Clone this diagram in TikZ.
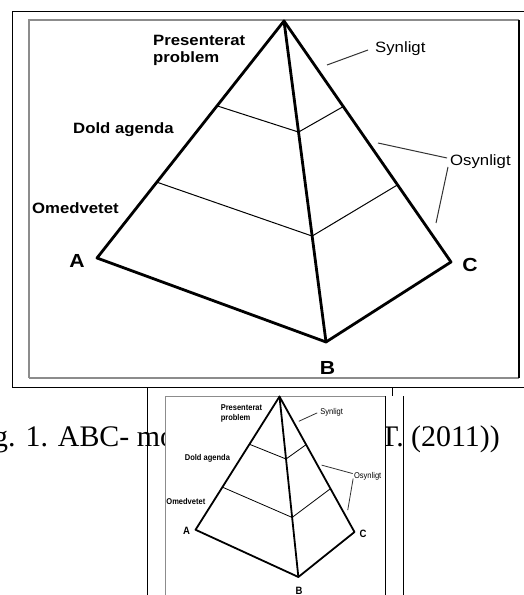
\documentclass[tikz,border=0pt]{standalone}
\usepackage{fontspec}
\setmainfont{Liberation Serif}
\newfontfamily\lblfont[FakeStretch=1.12]{Liberation Sans}
\usetikzlibrary{calc}
\newcommand{\pyrdraw}[2]{%
  \begin{scope}[#2]
    \fill[white] (0,0) rectangle (490,358);
    \draw[framegray] (0,358) -- (0,0) -- (490,0);
    \draw[framegray] (0,358) -- (490,358);
    \draw[framedark] (490,0) -- (490,358);
    \coordinate (#1apex) at (255,1);
    \coordinate (#1A) at (68,238);
    \coordinate (#1B) at (297,322);
    \coordinate (#1C) at (422,242);
    \coordinate (#1L1) at ($(#1apex)!0.358!(#1A)$);
    \coordinate (#1M1) at ($(#1apex)!0.346!(#1B)$);
    \coordinate (#1R1) at ($(#1apex)!0.355!(#1C)$);
    \coordinate (#1L2) at ($(#1apex)!0.68!(#1A)$);
    \coordinate (#1M2) at ($(#1apex)!0.67!(#1B)$);
    \coordinate (#1R2) at ($(#1apex)!0.68!(#1C)$);
    \draw[pyrlevel] (#1L1) -- (#1M1) -- (#1R1);
    \draw[pyrlevel] (#1L2) -- (#1M2) -- (#1R2);
    \draw[pyredge] (#1apex) -- (#1A) -- (#1B) -- (#1C) -- cycle;
    \draw[pyredge] (#1apex) -- (#1B);
    \node[lbl] (#1pres) at (124,26) {Presenterat};
    \node[lbl] (#1prob) at (124,43) {problem};
    \node[lbl] (#1dold) at (44,114) {Dold agenda};
    \node[lbl] (#1omed) at (3,193) {Omedvetet};
    \node[vislbl] (#1syn) at (346,33) {Synligt};
    \node[vislbl] (#1osyn) at (421,146) {Osynligt};
    \node[corner] (#1labA) at (48,240.5) {A};
    \node[corner] (#1labB) at (298.5,347.5) {B};
    \node[corner] (#1labC) at (441,245) {C};
    \coordinate (#1s1) at (298,45);
    \coordinate (#1s2) at (339,30);
    \coordinate (#1o1) at (349,123);
    \coordinate (#1o2) at (418,138);
    \coordinate (#1o3) at (419,147);
    \coordinate (#1o4) at (407,203);
    \draw[leader] (#1s1) -- (#1s2);
    \draw[leader] (#1o1) -- (#1o2);
    \draw[leader] (#1o3) -- (#1o4);
  \end{scope}}
\begin{document}
\begin{tikzpicture}[x=1bp,y=-1bp,
  pyredge/.style={line width=2.8bp, line join=round, line cap=round},
  pyrlevel/.style={line width=1bp},
  leader/.style={line width=1bp, draw=black!80},
  framegray/.style={line width=1.2bp, draw=black!45},
  framedark/.style={line width=1.2bp, draw=black},
  lbl/.style={font=\lblfont\bfseries\fontsize{15}{18}\selectfont, inner sep=0pt, anchor=base west},
  vislbl/.style={font=\lblfont\fontsize{15}{18}\selectfont, inner sep=0pt, anchor=base west},
  corner/.style={font=\lblfont\bfseries\fontsize{19}{22}\selectfont, inner sep=0pt},
  captxt/.style={font=\fontsize{30}{36}\selectfont, inner sep=0pt, anchor=base west},
  rulel/.style={line width=1bp, draw=black}]
\useasboundingbox[fill=white] (0,0) rectangle (524,595);
% large figure
\pyrdraw{big}{shift={(29,20)}}
% outer frame
\coordinate (fTL) at (12,12);
\coordinate (fTR) at (530,12);
\coordinate (fBL) at (12,387);
\coordinate (fBR) at (530,387);
\draw[rulel] (fBR) -- (fBL) -- (fTL) -- (fTR);
% caption
\node[captxt] (cap1) at (-7,446) {g. 1. ABC- mo};
\node[captxt] (cap2) at (380,446) {T. (2011))};
% small figure
\pyrdraw{small}{shift={(165,396)}, xscale=0.449, yscale=0.562, transform shape,
  pyredge/.append style={line width=1.8bp}, pyrlevel/.append style={line width=0.8bp},
  leader/.append style={line width=0.8bp}, framegray/.append style={line width=1bp},
  framedark/.append style={line width=1bp}}
% cell rules
\coordinate (t1) at (392,387);
\coordinate (t2) at (392,396);
\coordinate (v1a) at (147,387);
\coordinate (v1b) at (147,595);
\coordinate (v2a) at (403,396);
\coordinate (v2b) at (403,595);
\draw[rulel] (t1) -- (t2);
\draw[rulel] (v1a) -- (v1b);
\draw[rulel] (v2a) -- (v2b);
\end{tikzpicture}
\end{document}
